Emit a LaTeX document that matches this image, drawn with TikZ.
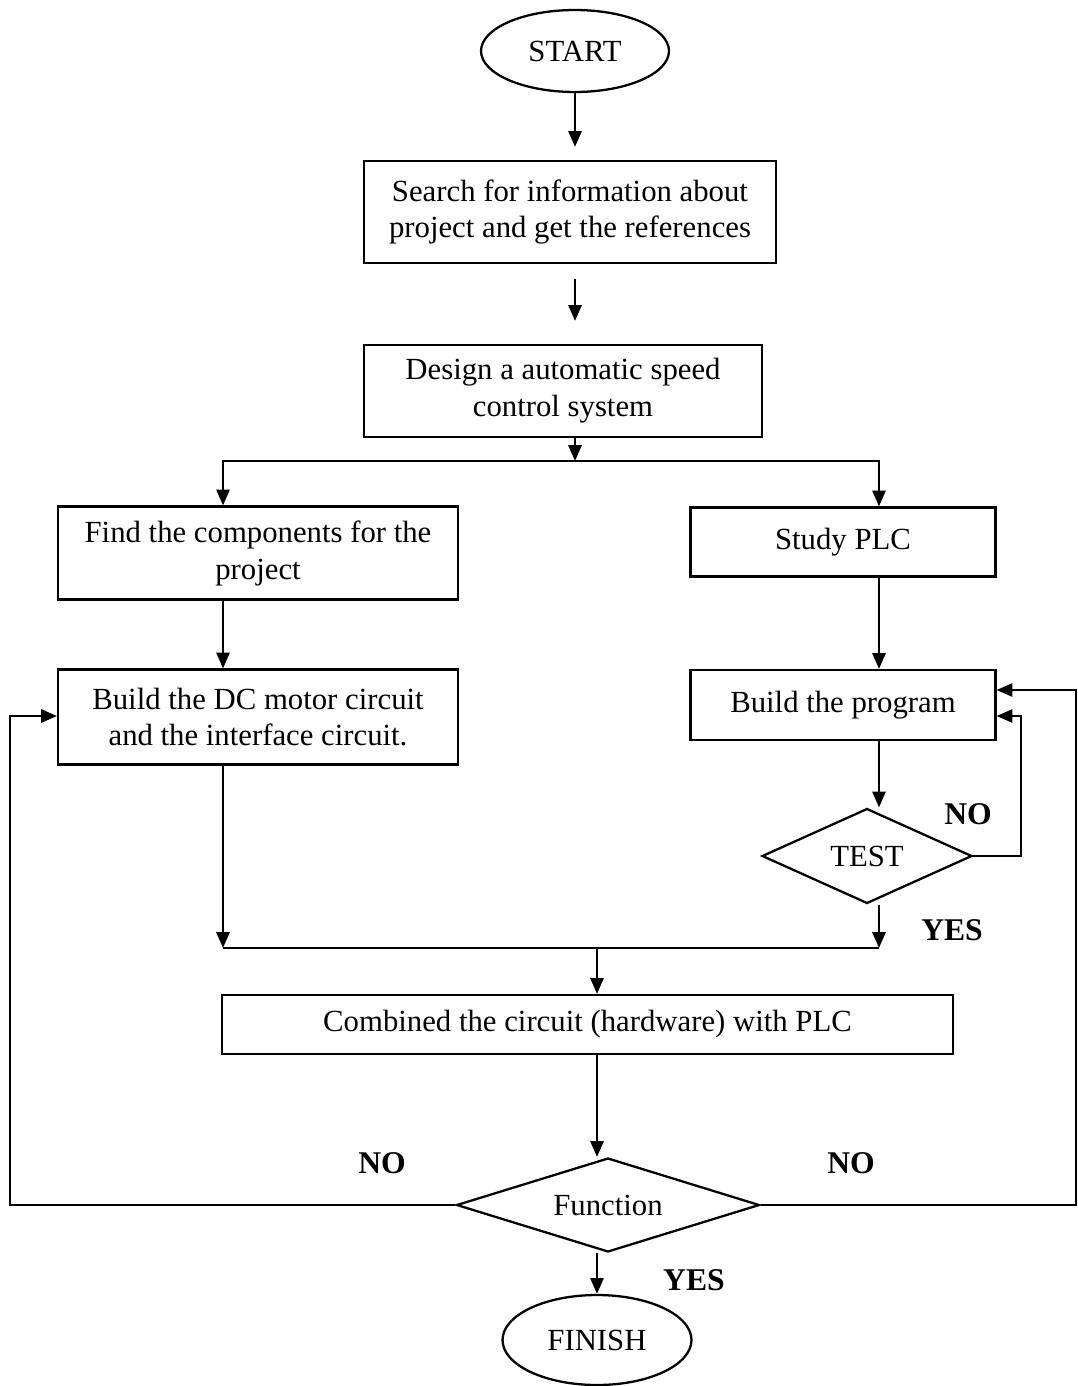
\documentclass[tikz,border=0pt]{standalone}
\usepackage{fontspec}
\setmainfont{Liberation Serif}
\usetikzlibrary{arrows.meta, calc, shapes.geometric, positioning}
\tikzset{
  proc/.style = {draw, line width=1.3pt, align=center, inner sep=0pt},
  decide/.style = {draw, line width=1.3pt, diamond, inner sep=0pt},
  term/.style = {draw, line width=1.3pt, ellipse, inner sep=0pt},
  flow/.style = {line width=1.3pt, -{Triangle[length=9pt, width=7.5pt]}},
  ans/.style = {font=\fontsize{18}{20}\selectfont\bfseries}
}

\begin{document}
\begin{tikzpicture}[x=0.02cm, y=-0.02cm, font=\fontsize{17.5}{21}\selectfont]
  \useasboundingbox (0,0) rectangle (1078,1386);

  % boxes
  \node[term, minimum width=3.76cm, minimum height=1.64cm] (start) at (575,51) {START};
  \node[proc, minimum width=8.24cm, minimum height=2.04cm] (search) at (570,212) {Search for information about\\project and get the references};
  \node[proc, minimum width=7.96cm, minimum height=1.84cm] (design) at (563,391) {Design a automatic speed\\control system};
  \node[proc, minimum width=8cm, minimum height=1.86cm] (find) at (258,553) {Find the components for the\\project};
  \node[proc, minimum width=6.1cm, minimum height=1.38cm] (study) at (843,542) {Study PLC};
  \node[proc, minimum width=8cm, minimum height=1.9cm] (dc) at (258,717) {Build the DC motor circuit\\and the interface circuit.};
  \node[proc, minimum width=6.1cm, minimum height=1.4cm] (prog) at (843,705) {Build the program};
  \node[decide, aspect=2.2, minimum width=4.2cm, minimum height=1.9cm] (test) at (867,856) {TEST};
  \node[proc, minimum width=14.62cm, minimum height=1.18cm] (comb) at (587.5,1024.5) {Combined the circuit (hardware) with PLC};
  \node[decide, aspect=3.2, minimum width=6.06cm, minimum height=1.88cm] (func) at (608,1205) {Function};
  \node[term, minimum width=3.78cm, minimum height=1.8cm] (finish) at (597,1340) {FINISH};

  % helper points
  \coordinate (lcol) at (223,0);
  \coordinate (rcol) at (879,0);
  \coordinate (split) at (575,461);
  \coordinate (merge) at (597,948);
  \coordinate (ledge) at (10,716);
  \coordinate (redge) at (1076,690);

  % arrows
  \draw[flow, shorten >=0.26cm] (start.south) -- (start.south |- search.north);
  \draw[flow, shorten <=0.3cm, shorten >=0.46cm] (search.south -| split) -- (design.north -| split);
  \draw[flow] (design.south -| split) -- (split);
  \draw[flow] (split) -| (find.north -| lcol);
  \draw[flow] (split) -| (study.north -| rcol);
  \draw[flow] (find.south -| lcol) -- (dc.north -| lcol);
  \draw[flow] (study.south -| rcol) -- (prog.north -| rcol);
  \draw[flow] (prog.south -| rcol) -- (test.north -| rcol);
  \draw[flow] (test.east) -- ++(48,0) |- ($(prog.east)+(0,11)$);
  \draw[flow] (dc.south -| lcol) -- (lcol |- merge);
  \draw[flow] (test.south -| rcol) -- (rcol |- merge);
  \draw[line width=1.3pt] (lcol |- merge) -- (rcol |- merge);
  \draw[flow] (merge) -- (merge |- comb.north);
  \draw[flow] (comb.south -| merge) -- (func.north -| merge);
  \draw[flow] (func.south -| merge) -- (finish.north);
  \draw[flow] (func.west) -| (ledge) -- (dc.west |- ledge);
  \draw[flow] (func.east) -| (redge) -- (prog.east |- redge);

  % answers
  \node[ans] (tno) at (968,814) {NO};
  \node[ans] (tyes) at (952,930) {YES};
  \node[ans] (fnol) at (382,1163) {NO};
  \node[ans] (fnor) at (851,1163) {NO};
  \node[ans] (fyes) at (694,1280) {YES};
\end{tikzpicture}
\end{document}
